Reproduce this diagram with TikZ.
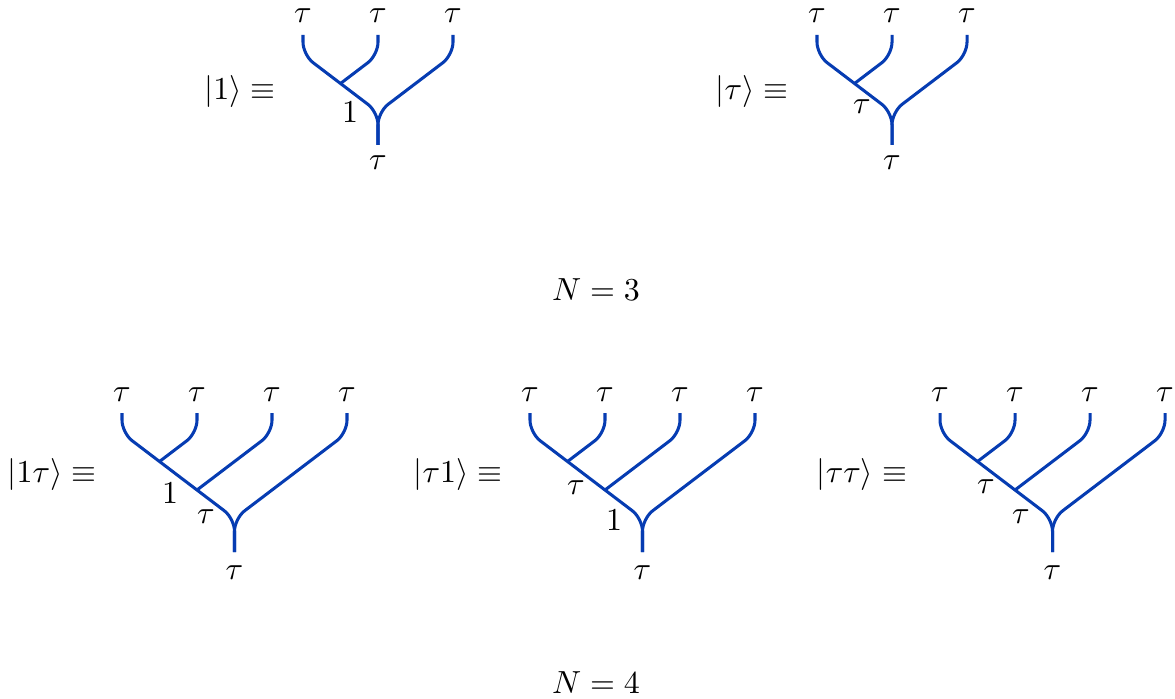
\documentclass[tikz,border=0pt]{standalone}
\usepackage{amsmath,amssymb}
\usepackage{xcolor}
\usepackage{tikz}
\definecolor{fuse}{RGB}{6,60,178}

\begin{document}
\begin{tikzpicture}[x=0.011cm, y=-0.011cm,
  wire/.style={draw=fuse, line width=0.95pt, rounded corners=4pt},
  lab/.style={inner sep=0pt}
]
\useasboundingbox (0,0) rectangle (1175,698);

% N = 3, state |1>
\begin{scope}[shift={(303,35)}]
\coordinate (a1) at (0,0);
\coordinate (a2) at (75,0);
\coordinate (a3) at (150,0);
\coordinate (aV) at (37.5,48.5);
\coordinate (aR) at (75,77);
\coordinate (aB) at (75,110);
\draw[wire] (a1) -- ++(0,20) -- (aR) -- (aB);
\draw[wire] (a3) -- ++(0,20) -- (aR) -- (aB);
\draw[wire] (a2) -- ++(0,20) -- (aV);
\node[lab] (a1t) at (0,-19) {$\tau$};
\node[lab] (a2t) at (75,-19) {$\tau$};
\node[lab] (a3t) at (150,-19) {$\tau$};
\node[lab] (aBt) at (75,128) {$\tau$};
\node[lab] (aRt) at (47,77) {$1$};
\end{scope}
\node[lab] (ket1) at (240,92) {$|1\rangle \equiv$};

% N = 3, state |tau>
\begin{scope}[shift={(817,35)}]
\coordinate (b1) at (0,0);
\coordinate (b2) at (75,0);
\coordinate (b3) at (150,0);
\coordinate (bV) at (37.5,48.5);
\coordinate (bR) at (75,77);
\coordinate (bB) at (75,110);
\draw[wire] (b1) -- ++(0,20) -- (bR) -- (bB);
\draw[wire] (b3) -- ++(0,20) -- (bR) -- (bB);
\draw[wire] (b2) -- ++(0,20) -- (bV);
\node[lab] (b1t) at (0,-19) {$\tau$};
\node[lab] (b2t) at (75,-19) {$\tau$};
\node[lab] (b3t) at (150,-19) {$\tau$};
\node[lab] (bBt) at (75,128) {$\tau$};
\node[lab] (bRt) at (45,72) {$\tau$};
\end{scope}
\node[lab] (ket2) at (752,92) {$|\tau\rangle \equiv$};

\node[lab] (n3) at (596,290) {$N=3$};

% N = 4, state |1 tau>
\begin{scope}[shift={(122,413)}]
\coordinate (c1) at (0,0);
\coordinate (c2) at (75,0);
\coordinate (c3) at (150,0);
\coordinate (c4) at (225,0);
\coordinate (cV) at (37.5,48.5);
\coordinate (cW) at (75,77);
\coordinate (cR) at (112.5,105.5);
\coordinate (cB) at (112.5,139);
\draw[wire] (c1) -- ++(0,20) -- (cR) -- (cB);
\draw[wire] (c4) -- ++(0,20) -- (cR) -- (cB);
\draw[wire] (c2) -- ++(0,20) -- (cV);
\draw[wire] (c3) -- ++(0,20) -- (cW);
\node[lab] (c1t) at (0,-18) {$\tau$};
\node[lab] (c2t) at (75,-18) {$\tau$};
\node[lab] (c3t) at (150,-18) {$\tau$};
\node[lab] (c4t) at (225,-18) {$\tau$};
\node[lab] (cBt) at (112.5,160) {$\tau$};
\node[lab] (cWt) at (48,80) {$1$};
\node[lab] (cRt) at (84,104) {$\tau$};
\end{scope}
\node[lab] (ket3) at (52,475) {$|1\tau\rangle \equiv$};

% N = 4, state |tau 1>
\begin{scope}[shift={(530,413)}]
\coordinate (d1) at (0,0);
\coordinate (d2) at (75,0);
\coordinate (d3) at (150,0);
\coordinate (d4) at (225,0);
\coordinate (dV) at (37.5,48.5);
\coordinate (dW) at (75,77);
\coordinate (dR) at (112.5,105.5);
\coordinate (dB) at (112.5,139);
\draw[wire] (d1) -- ++(0,20) -- (dR) -- (dB);
\draw[wire] (d4) -- ++(0,20) -- (dR) -- (dB);
\draw[wire] (d2) -- ++(0,20) -- (dV);
\draw[wire] (d3) -- ++(0,20) -- (dW);
\node[lab] (d1t) at (0,-18) {$\tau$};
\node[lab] (d2t) at (75,-18) {$\tau$};
\node[lab] (d3t) at (150,-18) {$\tau$};
\node[lab] (d4t) at (225,-18) {$\tau$};
\node[lab] (dBt) at (112.5,160) {$\tau$};
\node[lab] (dWt) at (46,75) {$\tau$};
\node[lab] (dRt) at (84,107) {$1$};
\end{scope}
\node[lab] (ket4) at (458,475) {$|\tau 1\rangle \equiv$};

% N = 4, state |tau tau>
\begin{scope}[shift={(940,413)}]
\coordinate (e1) at (0,0);
\coordinate (e2) at (75,0);
\coordinate (e3) at (150,0);
\coordinate (e4) at (225,0);
\coordinate (eV) at (37.5,48.5);
\coordinate (eW) at (75,77);
\coordinate (eR) at (112.5,105.5);
\coordinate (eB) at (112.5,139);
\draw[wire] (e1) -- ++(0,20) -- (eR) -- (eB);
\draw[wire] (e4) -- ++(0,20) -- (eR) -- (eB);
\draw[wire] (e2) -- ++(0,20) -- (eV);
\draw[wire] (e3) -- ++(0,20) -- (eW);
\node[lab] (e1t) at (0,-18) {$\tau$};
\node[lab] (e2t) at (75,-18) {$\tau$};
\node[lab] (e3t) at (150,-18) {$\tau$};
\node[lab] (e4t) at (225,-18) {$\tau$};
\node[lab] (eBt) at (112.5,160) {$\tau$};
\node[lab] (eWt) at (46,74) {$\tau$};
\node[lab] (eRt) at (81,104) {$\tau$};
\end{scope}
\node[lab] (ket5) at (862,475) {$|\tau\tau\rangle \equiv$};

\node[lab] (n4) at (596,683) {$N=4$};
\end{tikzpicture}
\end{document}
